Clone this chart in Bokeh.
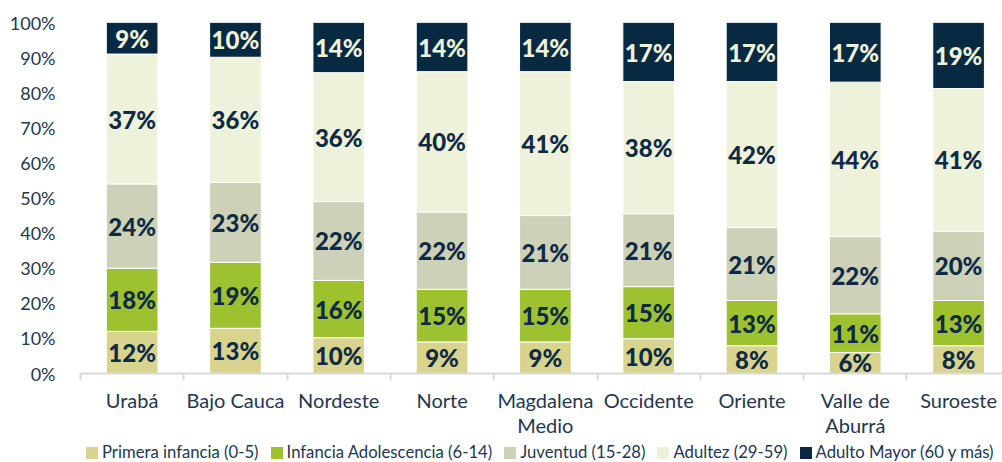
import numpy as np
from bokeh.plotting import figure
from bokeh.layouts import column
from bokeh.models import ColumnDataSource, FixedTicker, Range1d, Legend, LegendItem
from bokeh.core.properties import value
from bokeh.embed import file_html
from bokeh.resources import INLINE

# ---- data ----
regions = ["Urabá", "Bajo Cauca", "Nordeste", "Norte", "Magdalena\nMedio",
           "Occidente", "Oriente", "Valle de\nAburrá", "Suroeste"]
series_names = ["Primera infancia (0-5)", "Infancia Adolescencia (6-14)",
                "Juventud (15-28)", "Adultez (29-59)", "Adulto Mayor (60 y más)"]
primera = [12, 13, 10, 9, 9, 10, 8, 6, 8]
infancia = [18, 19, 16, 15, 15, 15, 13, 11, 13]
juventud = [24, 23, 22, 22, 21, 21, 21, 22, 20]
adultez = [37, 36, 36, 40, 41, 38, 42, 44, 41]
mayor = [9, 10, 14, 14, 14, 17, 17, 17, 19]
y_ticks = [0, 10, 20, 30, 40, 50, 60, 70, 80, 90, 100]

colors = ["#D8D48D", "#9EC22F", "#CDD1B8", "#EEF2DA", "#072A42"]
text_colors = ["#0E2A45", "#0E2A45", "#0E2A45", "#0E2A45", "#EEF2DA"]
axis_text = "#24374F"
FONT = "Lato"

series = [primera, infancia, juventud, adultez, mayor]
keys = ["s0", "s1", "s2", "s3", "s4"]
arr = np.array(series, dtype=float)
totals = arr.sum(axis=0)
norm = arr / totals * 100.0

n = len(regions)
xc = np.arange(n) + 0.5
src = ColumnDataSource(data={"x": xc, **{k: norm[i] for i, k in enumerate(keys)}})

p = figure(width=1002, height=440, x_range=Range1d(0, 8.925), y_range=Range1d(0, 100),
           output_backend="svg", toolbar_location=None,
           min_border_left=80, min_border_right=0, min_border_top=22, min_border_bottom=67)
p.outline_line_color = None
p.grid.grid_line_color = None
p.background_fill_color = "white"

p.vbar_stack(keys, x="x", width=0.5, color=colors, line_color="white", line_width=1,
             source=src)

# labels
lx, ly, lt, lc = [], [], [], []
cum = np.zeros(n)
for i in range(len(series)):
    mid = cum + norm[i] / 2
    for j in range(n):
        lx.append(xc[j]); ly.append(mid[j]); lt.append(f"{series[i][j]}%"); lc.append(text_colors[i])
    cum = cum + norm[i]
lsrc = ColumnDataSource(data={"x": lx, "y": ly, "t": lt, "c": lc})
p.text(x="x", y="y", text="t", text_color="c", source=lsrc, text_align="center",
       text_baseline="middle", text_font=value("Lato Black, Lato"), text_font_style="bold",
       text_font_size="24px")

# x axis
xa = p.xaxis[0]
xa.ticker = FixedTicker(ticks=list(xc), minor_ticks=list(np.arange(n + 1)))
xa.major_label_overrides = {float(xc[j]): regions[j] for j in range(n)}
xa.major_tick_line_color = None
xa.major_tick_out = 0
xa.major_tick_in = 0
xa.minor_tick_line_color = "#D9D9D9"
xa.minor_tick_line_width = 2
xa.minor_tick_out = 7
xa.minor_tick_in = 0
xa.axis_line_color = "#D9D9D9"
xa.axis_line_width = 2
xa.major_label_text_font = FONT
xa.major_label_text_font_size = "20px"
xa.major_label_text_color = axis_text
xa.major_label_standoff = 7
xa.major_label_text_line_height = 1.05

ya = p.yaxis[0]
ya.ticker = FixedTicker(ticks=y_ticks)
ya.major_label_overrides = {t: f"{t}%" for t in y_ticks}
ya.axis_line_color = None
ya.major_tick_line_color = None
ya.minor_tick_line_color = None
ya.major_tick_out = 0
ya.major_label_standoff = 25
ya.major_label_text_font = FONT
ya.major_label_text_font_size = "18px"
ya.major_label_text_color = axis_text

# legend strip below the chart (frame aligned with the chart's frame)
pl = figure(width=1002, height=22, x_range=Range1d(0, 8.925), y_range=Range1d(0, 100),
            output_backend="svg", toolbar_location=None, x_axis_type=None, y_axis_type=None,
            min_border_left=80, min_border_right=0, min_border_top=0, min_border_bottom=0)
pl.outline_line_color = None
pl.grid.grid_line_color = None
lrends = pl.vbar_stack(keys, x="x", width=0.5, color=colors, line_color=None, source=src)
for r in lrends:
    r.visible = False
items = [LegendItem(label=series_names[i], renderers=[lrends[i]]) for i in range(len(series_names))]
lg = Legend(items=items, orientation="horizontal", location=(4, 0))
lg.padding = 0
lg.margin = 0
lg.spacing = 10
lg.border_line_color = None
lg.background_fill_alpha = 0
lg.inactive_fill_alpha = 0
lg.glyph_width = 15
lg.glyph_height = 15
lg.label_height = 15
lg.label_standoff = 3
lg.label_text_font = FONT
lg.label_text_font_size = "16.7px"
lg.label_text_color = axis_text
pl.add_layout(lg, "center")

layout = column(p, pl, spacing=0)
open("out.html", "w").write(file_html(layout, INLINE))
